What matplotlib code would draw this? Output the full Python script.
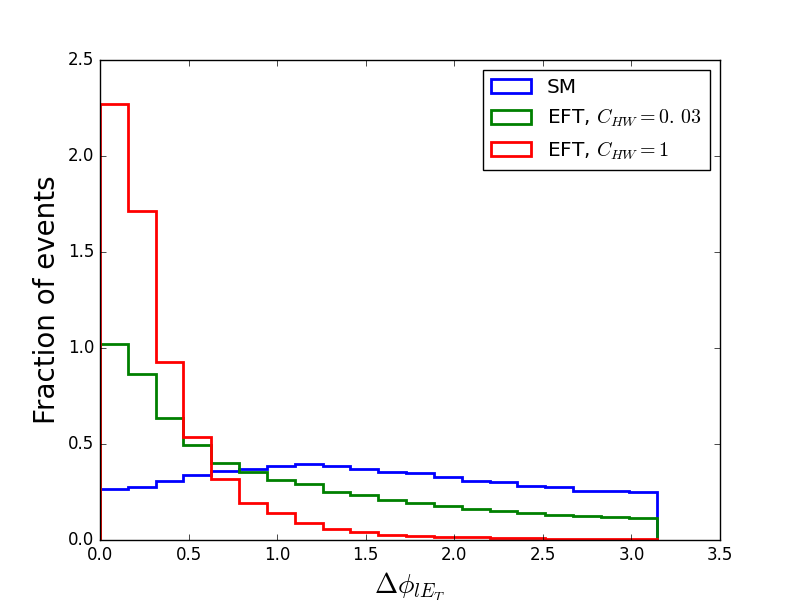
import numpy as np
import matplotlib.pyplot as plt

plt.style.use('classic')
plt.rcParams['figure.facecolor'] = 'white'
plt.rcParams['savefig.facecolor'] = 'white'

# 20 bins over [0, pi], normalised (density)
bin_edges = np.linspace(0, np.pi, 21)
sm = [0.264, 0.278, 0.307, 0.337, 0.361, 0.368, 0.384, 0.394, 0.384, 0.372,
      0.356, 0.351, 0.330, 0.307, 0.300, 0.283, 0.278, 0.254, 0.257, 0.250]
eft_003 = [1.022, 0.866, 0.637, 0.495, 0.403, 0.356, 0.314, 0.290, 0.250, 0.233,
           0.208, 0.191, 0.177, 0.161, 0.151, 0.139, 0.130, 0.125, 0.118, 0.113]
eft_1 = [2.270, 1.713, 0.929, 0.535, 0.318, 0.194, 0.141, 0.090, 0.057, 0.040,
         0.028, 0.023, 0.018, 0.014, 0.011, 0.008, 0.006, 0.005, 0.004, 0.003]

series = [
    (sm, 'blue', 'SM'),
    (eft_003, 'green', r'EFT, $C_{HW}=0.\,03$'),
    (eft_1, 'red', r'EFT, $C_{HW}=1$'),
]

centers = 0.5 * (bin_edges[1:] + bin_edges[:-1])

fig, ax = plt.subplots(figsize=(8, 6), dpi=100)
for vals, col, lab in series:
    ax.hist(centers, bins=bin_edges, weights=vals, histtype='step',
            color=col, linewidth=2, label=lab)

ax.set_xlim(0, 3.5)
ax.set_ylim(0, 2.5)
ax.set_xlabel(r'$\Delta\phi_{lE_T}$', fontsize=20)
ax.set_ylabel('Fraction of events', fontsize=20)
ax.legend(loc='upper right', fontsize=14.4)

fig.savefig('out.png', dpi=100)
